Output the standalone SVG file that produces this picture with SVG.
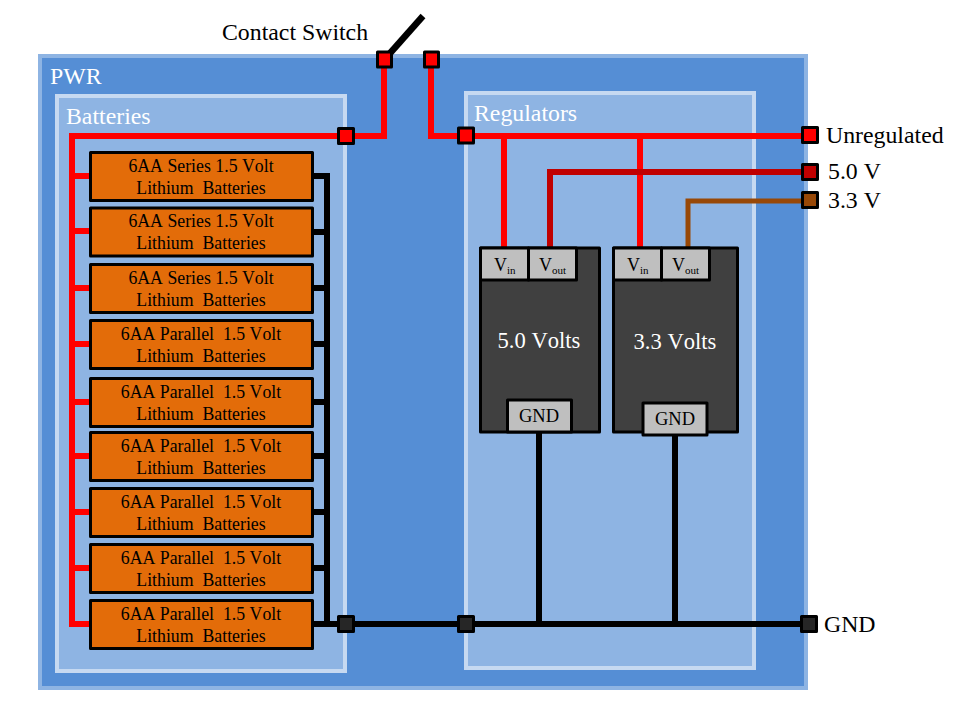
<svg xmlns="http://www.w3.org/2000/svg" width="960" height="720" viewBox="0 0 960 720">
<style>
text{font-family:"Liberation Serif","Times New Roman",serif;fill:#000;font-kerning:none;white-space:pre}
.w{fill:#fff}
.t{font-size:23.8px}
.m{font-size:22.6px;text-anchor:middle}
.b{font-size:17.8px;text-anchor:middle}
.batt{fill:#e36c09;stroke:#000;stroke-width:3;stroke-linejoin:round}
.pin{stroke:#000;stroke-width:3;stroke-linejoin:round}
.reg{fill:#404040;stroke:#000;stroke-width:3;stroke-linejoin:round}
.cell{fill:#bfbfbf;stroke:#000;stroke-width:3;stroke-linejoin:round}
.wire{fill:none;stroke-linejoin:miter}
.red{stroke:#f00;stroke-width:6}
.dred{stroke:#c00000;stroke-width:6}
.brn{stroke:#984807;stroke-width:5}
.blk{stroke:#000;stroke-width:6}
.v{font-size:18px}
.s{font-size:11px}
.g{font-size:18.5px;text-anchor:middle}
</style>
<g id="pwr"><rect x="40" y="56" width="766" height="632" fill="#558ed5" stroke="#8eb4e3" stroke-width="4"/><text class="t w" x="50" y="84">PWR</text></g>
<g id="batteries"><rect x="57" y="96" width="288" height="575" fill="#8eb4e3" stroke="#c6d9f1" stroke-width="4"/><text class="t w" x="66" y="124">Batteries</text></g>
<g id="regulators"><rect x="466" y="93" width="288" height="575" fill="#8eb4e3" stroke="#c6d9f1" stroke-width="4"/><text class="t w" x="474" y="121">Regulators</text></g>
<g id="connectors">
<path class="wire" d="M384 60 L423 16" stroke="#000" stroke-width="6.500"/>
<path class="wire red" d="M384 60 V136 H72 V624 H91 M72 176 H91 M72 231 H91 M72 288 H91 M72 344 H91 M72 402 H91 M72 456 H91 M72 512 H91 M72 568 H91"/>
<path class="wire red" d="M431 60 V136 H808 M504 136 V248 M640 136 V248"/>
<path class="wire dred" d="M550 248 V172 H808"/>
<path class="wire brn" d="M688 248 V201 H808"/>
<path class="wire blk" d="M313 176 H327 V624 M313 232 H330 M313 288 H330 M313 344 H330 M313 402 H330 M313 456 H330 M313 512 H330 M313 568 H330 M313 624 H808 M539 432 V624 M675 434 V624"/>
</g>
<g id="b1"><rect class="batt" x="90.500" y="152.500" width="222" height="48"/><text class="b" x="201" y="172">6AA Series 1.5 Volt</text><text class="b" x="201" y="194">Lithium  Batteries</text></g>
<g id="b2"><rect class="batt" x="90.500" y="208" width="222" height="48"/><text class="b" x="201" y="227">6AA Series 1.5 Volt</text><text class="b" x="201" y="249">Lithium  Batteries</text></g>
<g id="b3"><rect class="batt" x="90.500" y="264.500" width="222" height="48"/><text class="b" x="201" y="284">6AA Series 1.5 Volt</text><text class="b" x="201" y="306">Lithium  Batteries</text></g>
<g id="b4"><rect class="batt" x="90.500" y="320.500" width="222" height="48"/><text class="b" x="201" y="340">6AA Parallel  1.5 Volt</text><text class="b" x="201" y="362">Lithium  Batteries</text></g>
<g id="b5"><rect class="batt" x="90.500" y="378.500" width="222" height="48"/><text class="b" x="201" y="398">6AA Parallel  1.5 Volt</text><text class="b" x="201" y="420">Lithium  Batteries</text></g>
<g id="b6"><rect class="batt" x="90.500" y="432.500" width="222" height="48"/><text class="b" x="201" y="452">6AA Parallel  1.5 Volt</text><text class="b" x="201" y="474">Lithium  Batteries</text></g>
<g id="b7"><rect class="batt" x="90.500" y="488.500" width="222" height="48"/><text class="b" x="201" y="508">6AA Parallel  1.5 Volt</text><text class="b" x="201" y="530">Lithium  Batteries</text></g>
<g id="b8"><rect class="batt" x="90.500" y="544.500" width="222" height="48"/><text class="b" x="201" y="564">6AA Parallel  1.5 Volt</text><text class="b" x="201" y="586">Lithium  Batteries</text></g>
<g id="b9"><rect class="batt" x="90.500" y="600.500" width="222" height="48"/><text class="b" x="201" y="620">6AA Parallel  1.5 Volt</text><text class="b" x="201" y="642">Lithium  Batteries</text></g>
<g id="reg5">
<rect class="reg" x="480.500" y="248" width="119" height="184"/>
<rect class="cell" x="480.500" y="248" width="48" height="32"/>
<rect class="cell" x="528.500" y="248" width="48" height="32"/>
<rect class="cell" x="507.500" y="400" width="64" height="32"/>
<text class="v" x="494" y="271">V<tspan class="s" dy="3">in</tspan></text>
<text class="v" x="539" y="271">V<tspan class="s" dy="3">out</tspan></text>
<text class="m w" x="539" y="348">5.0 Volts</text>
<text class="g" x="539" y="422">GND</text>
</g>
<g id="reg33">
<rect class="reg" x="613.500" y="248" width="124" height="184"/>
<rect class="cell" x="613.500" y="248" width="48" height="32"/>
<rect class="cell" x="661.500" y="248" width="48" height="32"/>
<rect class="cell" x="643" y="403" width="64" height="32"/>
<text class="v" x="627" y="271">V<tspan class="s" dy="3">in</tspan></text>
<text class="v" x="672" y="271">V<tspan class="s" dy="3">out</tspan></text>
<text class="m w" x="675" y="349">3.3 Volts</text>
<text class="g" x="675" y="425">GND</text>
</g>
<g id="pin-sw1"><rect class="pin" x="377.500" y="52" width="14" height="15" fill="#f00"/></g>
<g id="pin-sw2"><rect class="pin" x="424.500" y="52" width="14" height="15" fill="#f00"/></g>
<g id="pin-bat"><rect class="pin" x="338.500" y="128.500" width="15" height="15" fill="#f00"/></g>
<g id="pin-reg"><rect class="pin" x="458.500" y="128" width="15" height="15" fill="#f00"/></g>
<g id="pin-unreg"><rect class="pin" x="802.500" y="127.500" width="15" height="15" fill="#f00"/></g>
<g id="pin-5v"><rect class="pin" x="802.500" y="164.500" width="15" height="15" fill="#c00000"/></g>
<g id="pin-33v"><rect class="pin" x="802.500" y="192.500" width="15" height="15" fill="#984807"/></g>
<g id="pin-g1"><rect class="pin" x="338.500" y="616.500" width="15" height="15" fill="#262626"/></g>
<g id="pin-g2"><rect class="pin" x="458.500" y="616.500" width="15" height="15" fill="#262626"/></g>
<g id="pin-g3"><rect class="pin" x="801.500" y="616.500" width="15" height="15" fill="#262626"/></g>
<g id="labels">
<text class="t" x="222" y="40">Contact Switch</text>
<text class="t" x="826" y="143">Unregulated</text>
<text class="t" x="828" y="179">5.0 V</text>
<text class="t" x="828" y="208">3.3 V</text>
<text class="t" x="824" y="632">GND</text>
</g>
</svg>
